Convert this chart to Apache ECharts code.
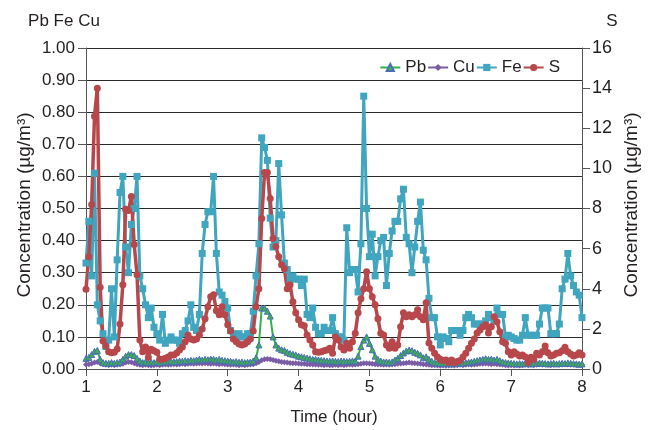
<!DOCTYPE html>
<html><head><meta charset="utf-8">
<script src="https://cdn.jsdelivr.net/npm/echarts@6/dist/echarts.min.js"></script>
<style>html,body{margin:0;padding:0;background:#fff}#c{width:649px;height:430px}</style>
</head><body><div id="c"></div>
<script>
// sampling: one reading every 0.04 h (2.4 min) from hour 1 to hour 8
const startHour = 1;
const stepHour = 0.04;
const xTickLabels = [1, 2, 3, 4, 5, 6, 7, 8];
const leftTicks = [0, 0.1, 0.2, 0.3, 0.4, 0.5, 0.6, 0.7, 0.8, 0.9, 1.0];
const rightTicks = [0, 2, 4, 6, 8, 10, 12, 14, 16];
const seriesNames = ['Pb', 'Cu', 'Fe', 'S'];

const pb = [
 0.033,0.036,0.045,0.055,0.058,0.03,0.02,
 0.018,0.018,0.02,0.018,0.02,0.022,
 0.03,0.04,0.045,0.045,0.042,0.033,0.025,
 0.02,0.022,0.02,0.021,0.02,0.022,0.02,0.021,0.023,0.022,0.024,0.022,0.023,0.025,0.024,0.026,0.025,0.027,0.026,0.028,
 0.03,0.028,0.03,0.029,0.031,0.03,0.028,0.03,0.027,0.026,
 0.025,0.024,0.022,0.023,0.021,0.022,0.02,0.021,0.022,
 0.025,0.035,0.075,0.19,0.19,0.18,0.165,0.10,0.075,0.065,0.06,
 0.058,0.052,0.048,0.046,0.044,0.04,0.038,0.036,0.034,0.032,0.03,0.03,0.028,0.027,0.026,
 0.025,0.024,0.025,0.024,0.023,0.025,0.024,0.023,0.024,0.025,
 0.025,0.04,0.07,0.09,0.10,0.08,0.06,0.04,0.03,0.025,0.022,0.022,0.021,0.022,
 0.028,0.033,0.042,0.05,0.056,0.059,0.057,0.052,0.049,0.044,0.035,0.038,0.03,0.024,
 0.02,0.019,0.018,0.017,0.018,0.017,0.016,0.018,0.017,0.019,0.018,0.02,0.021,0.022,0.024,0.026,0.028,
 0.03,0.032,0.03,0.031,0.028,0.03,0.026,0.022,
 0.02,0.019,0.018,0.017,0.016,0.017,0.016,0.018,0.017,0.016,0.018,0.017,0.019,0.018,0.017,0.016,0.017,0.018,0.016,0.017,0.018,0.017,0.019,0.018,0.017,0.016,0.015,0.016
];
const cu = [
 0.014,0.015,0.017,0.02,0.022,0.018,0.015,0.013,0.012,0.013,0.012,0.013,0.014,0.016,0.02,0.022,0.021,0.018,0.015,0.013,
 0.012,0.013,0.012,0.011,0.012,0.013,0.012,0.013,0.014,0.013,0.014,0.015,0.014,0.015,0.016,0.015,0.016,0.017,0.016,0.017,
 0.018,0.017,0.018,0.017,0.016,0.017,0.016,0.015,0.016,0.015,0.014,0.013,0.014,0.013,0.012,0.013,0.012,0.013,0.014,0.015,
 0.018,0.022,0.027,0.03,0.031,0.03,0.028,0.026,0.024,0.022,0.021,0.02,0.019,0.018,0.018,0.017,0.016,0.016,0.015,0.015,
 0.014,0.014,0.013,0.013,0.012,0.013,0.012,0.012,0.013,0.012,0.013,0.012,0.013,0.014,0.013,0.014,0.015,0.016,0.018,0.018,
 0.017,0.016,0.015,0.014,0.014,0.013,0.014,0.013,0.014,0.015,0.016,0.017,0.018,0.019,0.02,0.019,0.018,0.017,0.016,0.015,
 0.014,0.013,0.012,0.012,0.011,0.01,0.011,0.01,0.011,0.012,0.011,0.012,0.013,0.012,0.013,0.014,0.013,0.014,0.015,0.016,
 0.016,0.017,0.016,0.015,0.016,0.015,0.014,0.013,0.012,0.011,0.012,0.011,0.012,0.011,0.012,0.013,0.012,0.013,0.012,0.013,
 0.014,0.013,0.014,0.013,0.012,0.013,0.014,0.013,0.014,0.015,0.014,0.013,0.014,0.013,0.014,0.013
];
const fe = [
 0.33,0.46,0.29,0.61,0.20,0.15,0.11,0.07,0.09,0.25,
 0.10,0.34,0.55,0.60,0.38,0.30,0.45,0.50,0.60,0.29,
 0.25,0.20,0.16,0.19,0.13,0.11,0.09,0.17,0.08,0.09,
 0.10,0.09,0.09,0.08,0.11,0.12,0.15,0.20,0.13,0.12,
 0.17,0.36,0.45,0.49,0.49,0.60,0.36,0.24,0.23,0.21,
 0.19,0.12,0.11,0.10,0.11,0.10,0.10,0.11,0.11,0.18,
 0.29,0.39,0.72,0.69,0.65,0.47,0.38,0.40,0.64,0.48,
 0.33,0.31,0.28,0.29,0.28,0.28,0.26,0.28,0.17,0.16,
 0.19,0.13,0.11,0.11,0.13,0.12,0.12,0.16,0.11,0.10,
 0.10,0.09,0.44,0.30,0.31,0.31,0.24,0.39,0.85,0.50,
 0.35,0.42,0.29,0.35,0.40,0.41,0.26,0.36,0.43,0.46,
 0.46,0.53,0.56,0.41,0.39,0.30,0.38,0.46,0.52,0.37,
 0.34,0.22,0.16,0.16,0.10,0.075,0.10,0.095,0.085,0.12,
 0.12,0.12,0.105,0.12,0.16,0.17,0.16,0.14,0.14,0.14,
 0.14,0.15,0.17,0.16,0.15,0.19,0.17,0.17,0.10,0.105,
 0.10,0.095,0.09,0.09,0.105,0.16,0.105,0.105,0.105,0.105,
 0.14,0.19,0.19,0.19,0.11,0.11,0.11,0.14,0.25,0.28,
 0.36,0.29,0.26,0.24,0.23,0.16
];
const s = [
 3.97,5.6,8.2,12.6,14.0,4.07,1.4,1.15,0.86,0.81,0.83,1.0,2.24,4.2,7.96,7.9,8.6,6.2,4.7,1.45,
 0.86,1.1,0.58,0.98,0.91,0.83,0.48,0.48,0.53,0.6,0.7,0.7,0.8,0.95,1.1,
 1.36,1.7,1.5,1.45,1.5,1.7,2.0,2.5,3.1,3.6,3.7,2.9,2.7,3.1,2.7,2.2,1.9,1.5,1.36,1.25,
 1.2,1.25,1.36,1.5,1.9,3.1,4.0,7.5,9.8,9.8,8.5,6.5,6.1,5.6,5.2,
 5.0,4.0,4.2,3.35,2.8,2.45,2.2,2.15,1.7,1.45,1.2,0.86,0.83,0.86,0.91,0.95,1.03,0.78,1.6,1.45,
 1.1,0.95,1.28,1.03,1.36,1.78,2.8,3.5,4.0,4.85,4.0,3.6,3.2,2.5,
 1.78,1.7,1.2,1.03,1.36,1.03,1.2,2.1,2.8,2.6,2.7,2.6,2.7,2.95,2.6,2.45,3.3,1.3,1.03,0.78,
 0.6,0.48,0.42,0.45,0.32,0.45,0.33,0.37,0.42,0.6,0.78,1.03,1.28,1.5,
 1.8,1.95,2.1,2.2,1.8,2.1,2.6,2.35,1.86,1.36,1.28,0.86,0.7,0.86,0.75,0.65,0.7,0.6,0.32,0.58,
 0.48,0.78,0.7,0.86,1.15,0.81,0.65,0.7,0.78,0.81,0.91,1.08,0.86,0.75,0.65,0.7,0.81,0.7
];

function pairs(arr) { return arr.map((v, i) => [+(startHour + i * stepHour).toFixed(3), v]); }

const FONT = 'Liberation Sans, Arial, sans-serif';
const TXT = '#231f20';
const AX = '#555';

const chart = echarts.init(document.getElementById('c'), null, { renderer: 'canvas' });
chart.setOption({
  animation: false,
  backgroundColor: '#fff',
  textStyle: { fontFamily: FONT, color: TXT },
  grid: { left: 86, right: 67, top: 48, bottom: 61 },
  legend: {
    data: seriesNames,
    right: 89, top: 59,
    itemWidth: 20, itemHeight: 9, itemGap: 1, padding: 0,
    textStyle: { fontSize: 17, color: TXT, fontFamily: FONT }
  },
  xAxis: {
    type: 'value', min: xTickLabels[0], max: xTickLabels[xTickLabels.length - 1], interval: 1,
    axisLine: { show: true, lineStyle: { color: AX, width: 1 } },
    axisTick: { show: true, inside: false, length: 7, lineStyle: { color: AX } },
    axisLabel: { fontSize: 17, color: TXT, margin: 10, fontFamily: FONT },
    splitLine: { show: false }
  },
  yAxis: [
    {
      type: 'value', position: 'left', min: leftTicks[0], max: leftTicks[leftTicks.length - 1], interval: 0.1,
      axisLine: { show: true, lineStyle: { color: AX, width: 1 } },
      axisTick: { show: true, inside: false, length: 8, lineStyle: { color: AX } },
      axisLabel: { fontSize: 17, color: TXT, margin: 11, fontFamily: FONT, formatter: v => v.toFixed(2) },
      splitLine: { show: true, lineStyle: { color: '#2a2a2a', width: 1 } }
    },
    {
      type: 'value', position: 'right', min: rightTicks[0], max: rightTicks[rightTicks.length - 1], interval: 2,
      axisLine: { show: true, lineStyle: { color: AX, width: 1 } },
      axisTick: { show: true, inside: false, length: 8, lineStyle: { color: AX } },
      axisLabel: { fontSize: 18, color: TXT, margin: 10, fontFamily: FONT },
      splitLine: { show: false }
    }
  ],
  graphic: [
    { type: 'text', x: 64, y: 21, style: { text: 'Pb Fe Cu', font: '17px ' + FONT, fill: TXT, align: 'center', verticalAlign: 'middle' } },
    { type: 'text', x: 612, y: 21, style: { text: 'S', font: '17px ' + FONT, fill: TXT, align: 'center', verticalAlign: 'middle' } },
    { type: 'text', x: 25, y: 205, rotation: Math.PI / 2, style: { text: 'Concentration (µg/m³)', font: '19px ' + FONT, fill: TXT, align: 'center', verticalAlign: 'middle' } },
    { type: 'text', x: 632, y: 205, rotation: Math.PI / 2, style: { text: 'Concentration (µg/m³)', font: '19px ' + FONT, fill: TXT, align: 'center', verticalAlign: 'middle' } },
    { type: 'text', x: 334, y: 417, style: { text: 'Time (hour)', font: '17px ' + FONT, fill: TXT, align: 'center', verticalAlign: 'middle' } }
  ],
  series: [
    {
      name: 'Cu', type: 'line', yAxisIndex: 0, data: pairs(cu),
      symbol: 'diamond', symbolSize: 6, showAllSymbol: true,
      lineStyle: { color: '#7a5ca6', width: 2 },
      itemStyle: { color: '#7a5ca6' }
    },
    {
      name: 'Pb', type: 'line', yAxisIndex: 0, data: pairs(pb),
      symbol: 'triangle', symbolSize: 6, showAllSymbol: true,
      lineStyle: { color: '#2fb34a', width: 2 },
      itemStyle: { color: '#3cb24f', borderColor: '#4a6db5', borderWidth: 1 }
    },
    {
      name: 'Fe', type: 'line', yAxisIndex: 0, data: pairs(fe),
      symbol: 'rect', symbolSize: 7, showAllSymbol: true,
      lineStyle: { color: '#40a5be', width: 3 },
      itemStyle: { color: '#40a5be' }
    },
    {
      name: 'S', type: 'line', yAxisIndex: 1, data: pairs(s),
      symbol: 'circle', symbolSize: 7, showAllSymbol: true,
      lineStyle: { color: '#b8474b', width: 3.5 },
      itemStyle: { color: '#b8474b' }
    }
  ]
});
</script>
</body></html>
